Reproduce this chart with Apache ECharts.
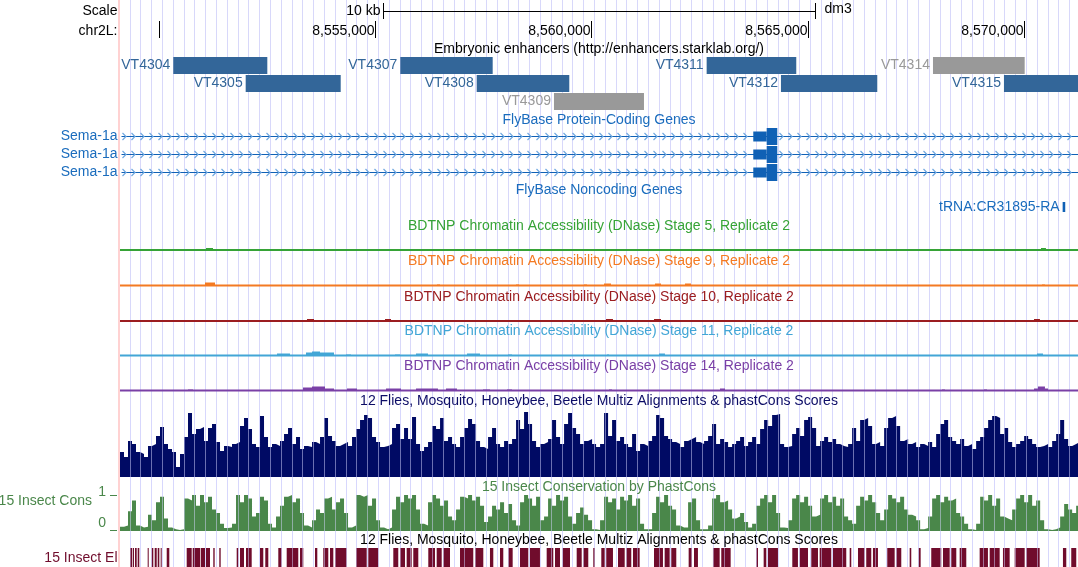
<!DOCTYPE html>
<html>
<head>
<meta charset="utf-8">
<script src="https://cdn.jsdelivr.net/npm/echarts@6/dist/echarts.min.js"></script>
<style>
  html, body { margin: 0; padding: 0; background: #fff; }
  #chart { width: 1078px; height: 567px; }
</style>
</head>
<body>
<div id="chart"></div>
<script>
// window shown: chr2L:8,549,100-8,571,250 (dm3)
const chromStart = 8549100;
const chromEnd = 8571250;
const rulerTicks = [8550000, 8555000, 8560000, 8565000, 8570000];
const rulerLabels = ['', '8,555,000', '8,560,000', '8,565,000', '8,570,000'];
const scaleBar = [8555170, 8565170];

// Embryonic enhancers (Stark lab)
const enhancerNames = ['VT4304', 'VT4305', 'VT4307', 'VT4308', 'VT4309', 'VT4311', 'VT4312', 'VT4314', 'VT4315'];
const enhancerStarts = [8550332, 8552006, 8555581, 8557347, 8559134, 8562664, 8564382, 8567897, 8569538];
const enhancerEnds = [8552506, 8554203, 8557717, 8559488, 8561215, 8564736, 8566609, 8570017, 8571900];
const enhancerRows = [0, 1, 0, 1, 2, 0, 1, 0, 1];
const enhancerActive = [1, 1, 1, 1, 0, 1, 1, 0, 1];

// FlyBase genes
const geneNames = ['Sema-1a', 'Sema-1a', 'Sema-1a'];
const geneSpan = [8400000, 8620000];
const utrExon = [8563742, 8564052];
const cdsExon = [8564052, 8564297];
const trnaName = 'tRNA:CR31895-RA';
const trnaSpan = [8570895, 8570955];

// BDTNP DNase signal: [start, end, height]
const dnaseStage5 = [[8551088, 8551250, 2], [8552822, 8552868, 1], [8560359, 8560406, 1], [8561515, 8561585, 1], [8569723, 8569769, 1], [8570394, 8570509, 2]];
const dnaseStage9 = [[8551065, 8551296, 3], [8556429, 8556499, 1], [8558256, 8558325, 1], [8559828, 8559897, 1], [8560290, 8560452, 2], [8561469, 8561608, 2], [8562163, 8562302, 2], [8570417, 8570486, 1]];
const dnaseStage10 = [[8552961, 8553030, 1], [8553423, 8553585, 2], [8554533, 8554626, 1], [8555227, 8555366, 2], [8555759, 8555828, 1], [8556845, 8556938, 1], [8557909, 8558002, 1], [8560336, 8560498, 2], [8561446, 8561608, 2], [8564290, 8564336, 1], [8568983, 8569076, 1], [8570232, 8570370, 2]];
const dnaseStage11 = [[8552730, 8553030, 2], [8553400, 8553539, 3], [8553539, 8553724, 4], [8553724, 8554048, 3], [8554325, 8554441, 1], [8555458, 8555574, 1], [8555944, 8556221, 2], [8557123, 8557423, 2], [8558071, 8558163, 1], [8560359, 8560406, 1], [8561562, 8561700, 2], [8570301, 8570440, 2]];
const dnaseStage14 = [[8550672, 8550788, 1], [8553331, 8553539, 3], [8553539, 8553840, 4], [8553840, 8554048, 2], [8554348, 8554579, 2], [8555250, 8555597, 2], [8555944, 8556452, 2], [8556637, 8556891, 2], [8557493, 8557654, 1], [8558048, 8558163, 1], [8560406, 8560475, 1], [8562972, 8563088, 2], [8568105, 8568174, 1], [8569076, 8569145, 1], [8570232, 8570324, 2], [8570324, 8570486, 4], [8570486, 8570556, 2]];

// Multiz / phastCons wiggles, fixed step from chromStart
const binSize = 92.5;
const multizScores = [
  25, 20, 36, 33, 25, 23, 20, 31, 33, 41,
  50, 33, 28, 25, 10, 23, 40, 64, 43, 48,
  50, 36, 49, 53, 35, 26, 31, 30, 33, 35,
  51, 59, 48, 33, 30, 61, 40, 30, 33, 31,
  36, 43, 49, 33, 40, 28, 31, 30, 35, 33,
  40, 59, 41, 36, 31, 33, 35, 31, 40, 48,
  57, 62, 59, 40, 35, 30, 31, 33, 49, 53,
  38, 49, 38, 60, 33, 26, 30, 35, 51, 48,
  59, 36, 40, 33, 30, 40, 49, 58, 53, 36,
  30, 28, 40, 49, 33, 30, 36, 33, 38, 57,
  48, 65, 53, 36, 30, 33, 35, 38, 57, 40,
  33, 53, 64, 49, 43, 33, 36, 38, 33, 30,
  33, 64, 41, 57, 36, 40, 33, 30, 43, 26,
  33, 31, 36, 41, 62, 59, 41, 38, 35, 33,
  30, 36, 38, 40, 35, 33, 36, 41, 53, 33,
  38, 35, 30, 33, 36, 40, 31, 35, 40, 33,
  48, 57, 51, 62, 63, 33, 30, 31, 43, 49,
  41, 57, 60, 49, 31, 36, 40, 35, 38, 33,
  31, 30, 33, 49, 36, 57, 59, 51, 33, 35,
  31, 49, 59, 61, 51, 36, 38, 33, 35, 30,
  33, 31, 35, 30, 43, 53, 57, 40, 36, 33,
  38, 31, 33, 28, 36, 40, 49, 57, 61, 59,
  43, 49, 35, 30, 33, 36, 41, 38, 33, 30,
  31, 33, 30, 36, 43, 57, 38, 31, 33, 35
];
const phastCons = [
  0.12, 0.15, 0.55, 0.85, 0.15, 0.1, 0.12, 0.45, 0.3, 0.8,
  0.95, 0.35, 0.1, 0.05, 0.03, 0.05, 0.9, 0.85, 1.0, 0.7,
  1.0, 0.8, 0.95, 0.6, 0.5, 0.2, 0.08, 0.1, 0.2, 1.0,
  0.8, 1.0, 0.9, 0.4, 0.5, 0.95, 0.85, 0.2, 0.1, 0.4,
  0.7, 0.95, 1.0, 0.8, 0.9, 0.5, 0.15, 0.1, 0.3, 0.6,
  0.5, 0.9, 0.95, 0.6, 0.8, 0.9, 0.5, 0.1, 0.15, 1.0,
  0.95, 1.0, 0.7, 0.9, 0.3, 0.1, 0.05, 0.1, 0.6, 0.95,
  0.8, 1.0, 0.9, 1.0, 0.6, 0.2, 0.15, 0.8, 1.0, 0.9,
  0.7, 0.85, 0.4, 0.3, 0.6, 0.95, 0.9, 1.0, 0.85, 0.95,
  0.7, 0.25, 0.4, 0.7, 0.6, 0.8, 0.5, 0.75, 0.3, 0.15,
  0.8, 1.0, 0.9, 0.7, 0.95, 0.3, 0.4, 0.9, 0.7, 1.0,
  0.85, 0.95, 0.4, 0.2, 0.5, 0.65, 0.45, 0.3, 0.05, 0.03,
  0.3, 0.95, 0.8, 0.9, 0.6, 0.95, 0.85, 1.0, 0.7, 0.9,
  0.2, 0.05, 0.05, 0.5, 0.95, 0.8, 1.0, 0.7, 0.6, 0.15,
  0.1, 0.1, 0.8, 0.9, 0.3, 0.05, 0.05, 0.15, 0.9, 1.0,
  0.8, 0.85, 0.6, 0.35, 0.4, 0.5, 0.25, 0.1, 0.2, 0.7,
  0.9, 1.0, 0.8, 1.0, 0.5, 0.1, 0.08, 0.3, 0.9, 1.0,
  0.8, 0.95, 0.7, 0.4, 0.45, 0.9, 1.0, 0.8, 0.95, 0.7,
  0.9, 0.4, 0.3, 0.2, 0.7, 0.95, 0.85, 1.0, 0.8, 0.5,
  0.3, 0.6, 1.0, 0.9, 0.8, 0.95, 0.6, 0.45, 0.4, 0.3,
  0.05, 0.08, 0.4, 0.9, 1.0, 0.8, 0.95, 0.85, 0.9, 0.5,
  0.4, 0.2, 0.05, 0.03, 0.2, 0.95, 0.85, 1.0, 0.7, 0.9,
  0.4, 0.35, 0.3, 0.6, 0.9, 1.0, 0.8, 1.0, 0.7, 0.85,
  0.3, 0.05, 0.03, 0.05, 0.1, 0.4, 0.75, 0.6, 0.5, 0.7
];
// 15 Insect conserved elements [start, end]
const consElements = [
  [8549331, 8549377], [8549394, 8549424], [8549447, 8549486], [8549509, 8549546],
  [8549740, 8549764], [8549833, 8549870], [8549902, 8549949], [8549972, 8550009], [8550041, 8550064],
  [8550180, 8550240], [8550642, 8550758], [8550781, 8550950], [8550966, 8551065], [8551088, 8551181],
  [8551257, 8551289], [8551396, 8551428], [8551798, 8551835], [8551874, 8551967], [8552013, 8552145],
  [8552337, 8552413], [8552459, 8552529], [8552760, 8552838], [8552954, 8553222], [8553262, 8553338],
  [8553608, 8553662], [8553800, 8553916], [8553955, 8554032], [8554071, 8554341],
  [8554556, 8554804], [8554841, 8555072], [8555419, 8555534], [8555574, 8555689], [8555728, 8555844], [8555881, 8555997],
  [8556228, 8556383], [8556422, 8556538], [8556575, 8556730], [8556961, 8557268], [8557308, 8557500],
  [8557654, 8557731], [8557886, 8557962], [8558078, 8558179], [8558348, 8558540], [8558579, 8558810],
  [8558965, 8559118], [8559157, 8559273], [8559335, 8559504], [8559659, 8559775], [8559811, 8559927], [8560043, 8560082],
  [8560228, 8560306], [8560343, 8560498], [8560614, 8560769], [8560806, 8560921], [8560961, 8561115],
  [8561446, 8561654], [8561693, 8561809], [8561846, 8561962], [8562248, 8562325], [8562371, 8562463],
  [8562810, 8562965], [8563002, 8563219], [8563811, 8563851], [8563982, 8564043], [8564082, 8564313],
  [8564644, 8564775], [8564815, 8565007], [8565083, 8565238], [8565277, 8565545], [8565585, 8565892],
  [8565971, 8566008], [8566163, 8566317], [8566354, 8566470], [8566509, 8566625],
  [8566840, 8567011], [8567048, 8567164], [8567358, 8567395], [8567565, 8567612],
  [8567857, 8568088], [8568128, 8568283], [8568320, 8568436], [8568514, 8568667],
  [8568976, 8569168], [8569208, 8569439], [8569515, 8569670], [8569786, 8570017], [8570054, 8570364],
  [8570902, 8570979], [8571094, 8571210]
];

const FONT = '14px "Liberation Sans", Arial, Helvetica, sans-serif';
const ENH_BLUE = '#336699';
const ENH_GREY = '#999999';
const GENE_BLUE = '#1061b5';
const GENE_TEXT = '#1a6cbd';
const CHEVRON = '#70a8e0';
const NAVY = '#000a64';
const CONS_GREEN = '#4a874a';
const EL_RED = '#700c2c';

const dnaseTracks = [
  {name: 'BDTNP Chromatin Accessibility (DNase) Stage 5, Replicate 2', color: '#36a336', base: 250, bumps: dnaseStage5},
  {name: 'BDTNP Chromatin Accessibility (DNase) Stage 9, Replicate 2', color: '#f47a22', base: 285.5, bumps: dnaseStage9},
  {name: 'BDTNP Chromatin Accessibility (DNase) Stage 10, Replicate 2', color: '#9b1d20', base: 321, bumps: dnaseStage10},
  {name: 'BDTNP Chromatin Accessibility (DNase) Stage 11, Replicate 2', color: '#42a6d6', base: 355.5, bumps: dnaseStage11},
  {name: 'BDTNP Chromatin Accessibility (DNase) Stage 14, Replicate 2', color: '#7a40a6', base: 390.5, bumps: dnaseStage14}
];

function textEl(text, x, y, color, align) {
  return {
    type: 'text', x: x, y: y, z: 100,
    style: {
      text: text, fill: color, font: FONT,
      align: align, textAlign: align,
      verticalAlign: 'middle', textVerticalAlign: 'middle'
    }
  };
}

const grids = [];
const xAxes = [];
const yAxes = [];
function addGrid(grid, xAxis, yAxis) {
  grids.push(grid);
  const idx = grids.length - 1;
  xAxes.push(Object.assign({gridIndex: idx}, xAxis));
  yAxes.push(Object.assign({gridIndex: idx}, yAxis));
  return idx;
}
const bpAxis = {type: 'value', min: chromStart, max: chromEnd, show: false};
const hiddenY = {type: 'value', show: false};
function guideAxis(color, z) {
  return {
    type: 'value', min: 0, max: 959, interval: 10.8, z: z,
    axisLine: {show: false}, axisTick: {show: false}, axisLabel: {show: false},
    splitLine: {show: true, showMinLine: false, showMaxLine: false, lineStyle: {color: color, width: 1}}
  };
}

// guide lines behind everything
addGrid({left: 119, right: 0, top: 0, bottom: 0}, guideAxis('#d8d8fa', 0), hiddenY);
// layout grid: x in bp, y in pixels
const layoutIdx = addGrid({left: 120, right: 0, top: 0, bottom: 0}, bpAxis,
  {type: 'value', min: 0, max: 567, inverse: true, show: false});
const dnaseIdx = dnaseTracks.map(t => addGrid({left: 120, right: 0, top: t.base - 20, height: 20}, bpAxis,
  {type: 'value', min: 0, max: 20, show: false}));
const multizIdx = addGrid({left: 120, right: 0, top: 410, height: 67}, bpAxis, {type: 'value', min: 0, max: 67, show: false});
const consIdx = addGrid({left: 120, right: 0, top: 495, height: 36}, bpAxis, {type: 'value', min: 0, max: 1, show: false});
const elIdx = addGrid({left: 120, right: 0, top: 548, height: 19}, bpAxis, {type: 'value', min: 0, max: 1, show: false});
// guide lines showing through the conservation tracks
addGrid({left: 119, right: 0, top: 408, bottom: 0}, guideAxis('rgba(214,214,255,0.5)', 5), hiddenY);

const series = [];

// ruler
series.push({
  type: 'custom', xAxisIndex: layoutIdx, yAxisIndex: layoutIdx, silent: true,
  data: rulerTicks.map((t, i) => [t, i]),
  renderItem: function (params, api) {
    const x = Math.round(api.coord([api.value(0), 0])[0]) + 0.5;
    const label = rulerLabels[api.value(1)];
    const children = [{type: 'line', shape: {x1: x, y1: 21, x2: x, y2: 38}, style: {stroke: '#000', lineWidth: 1}}];
    if (label) children.push(textEl(label, x - 1, 31, '#000', 'right'));
    return {type: 'group', children: children};
  }
});

// scale bar
series.push({
  type: 'custom', xAxisIndex: layoutIdx, yAxisIndex: layoutIdx, silent: true,
  data: [[scaleBar[0], scaleBar[1]]],
  renderItem: function (params, api) {
    const x0 = Math.round(api.coord([api.value(0), 0])[0]) + 0.5;
    const x1 = Math.round(api.coord([api.value(1), 0])[0]) + 0.5;
    const kb = Math.round((api.value(1) - api.value(0)) / 1000);
    return {type: 'group', children: [
      {type: 'line', shape: {x1: x0, y1: 11.5, x2: x1, y2: 11.5}, style: {stroke: '#000', lineWidth: 1}},
      {type: 'line', shape: {x1: x0, y1: 3, x2: x0, y2: 19}, style: {stroke: '#000', lineWidth: 1}},
      {type: 'line', shape: {x1: x1, y1: 3, x2: x1, y2: 19}, style: {stroke: '#000', lineWidth: 1}},
      textEl(kb + ' kb', x0 - 3, 11, '#000', 'right'),
      textEl('dm3', x1 + 9, 9, '#000', 'left')
    ]};
  }
});

// enhancers
series.push({
  type: 'custom', xAxisIndex: layoutIdx, yAxisIndex: layoutIdx, silent: true,
  data: enhancerNames.map((n, i) => [enhancerStarts[i], enhancerEnds[i], i]),
  renderItem: function (params, api) {
    const i = api.value(2);
    const cs = params.coordSys;
    const x0 = api.coord([api.value(0), 0])[0];
    const x1 = Math.min(api.coord([api.value(1), 0])[0], cs.x + cs.width);
    const top = 57 + enhancerRows[i] * 18;
    const color = enhancerActive[i] ? ENH_BLUE : ENH_GREY;
    return {type: 'group', children: [
      {type: 'rect', shape: {x: x0, y: top, width: x1 - x0, height: 17}, style: {fill: color}},
      textEl(enhancerNames[i], x0 - 3, top + 8.5, color, 'right')
    ]};
  }
});

// protein coding genes
series.push({
  type: 'custom', xAxisIndex: layoutIdx, yAxisIndex: layoutIdx, silent: true,
  data: geneNames.map((n, i) => [geneSpan[0], i]),
  renderItem: function (params, api) {
    const i = api.value(1);
    const y = 136.5 + i * 18;
    const cs = params.coordSys;
    const left = Math.max(api.coord([geneSpan[0], 0])[0], cs.x + 1.5);
    const right = Math.min(api.coord([geneSpan[1], 0])[0], cs.x + cs.width);
    const u0 = api.coord([utrExon[0], 0])[0];
    const u1 = api.coord([utrExon[1], 0])[0];
    const c1 = api.coord([cdsExon[1], 0])[0];
    const children = [{type: 'line', shape: {x1: left, y1: y, x2: right, y2: y}, style: {stroke: GENE_BLUE, lineWidth: 1.2}}];
    for (let x = left + 4; x < right; x += 9) {
      if (x > u0 - 4 && x < c1 + 5) continue;
      children.push({type: 'polyline', shape: {points: [[x - 3, y - 3.5], [x + 0.5, y], [x - 3, y + 3.5]]},
        style: {stroke: CHEVRON, lineWidth: 1.2, fill: null}});
    }
    children.push({type: 'rect', shape: {x: u0, y: y - 5, width: u1 - u0, height: 10}, style: {fill: GENE_BLUE}});
    children.push({type: 'rect', shape: {x: u1, y: y - 8.5, width: c1 - u1, height: 17}, style: {fill: GENE_BLUE}});
    children.push(textEl(geneNames[i], 117.5, y, GENE_TEXT, 'right'));
    return {type: 'group', children: children};
  }
});

// noncoding gene
series.push({
  type: 'custom', xAxisIndex: layoutIdx, yAxisIndex: layoutIdx, silent: true,
  data: [[trnaSpan[0], trnaSpan[1]]],
  renderItem: function (params, api) {
    const x0 = api.coord([api.value(0), 0])[0];
    const x1 = api.coord([api.value(1), 0])[0];
    return {type: 'group', children: [
      {type: 'rect', shape: {x: x0, y: 202, width: Math.max(2, x1 - x0), height: 10}, style: {fill: GENE_BLUE}},
      textEl(trnaName, x0 - 3, 207.5, GENE_TEXT, 'right')
    ]};
  }
});

// DNase tracks
dnaseTracks.forEach((t, k) => {
  series.push({
    type: 'line', xAxisIndex: dnaseIdx[k], yAxisIndex: dnaseIdx[k], silent: true, clip: false,
    symbol: 'none', data: [[chromStart, 0], [chromEnd, 0]],
    lineStyle: {color: t.color, width: 2}
  });
  series.push({
    type: 'custom', xAxisIndex: dnaseIdx[k], yAxisIndex: dnaseIdx[k], silent: true,
    data: t.bumps,
    renderItem: function (params, api) {
      const p0 = api.coord([api.value(0), api.value(2)]);
      const p1 = api.coord([api.value(1), 0]);
      return {type: 'rect', shape: {x: p0[0], y: p0[1], width: Math.max(1, p1[0] - p0[0]), height: p1[1] - p0[1]},
        style: {fill: t.color}};
    }
  });
});

// wiggles as stepped areas
function wiggleData(values) {
  const pts = values.map((v, i) => [chromStart + i * binSize, v]);
  pts.push([chromStart + values.length * binSize, values[values.length - 1]]);
  return pts;
}
series.push({
  type: 'line', xAxisIndex: multizIdx, yAxisIndex: multizIdx, silent: true, step: 'end',
  symbol: 'none', data: wiggleData(multizScores),
  lineStyle: {width: 0}, areaStyle: {color: NAVY, opacity: 1}
});
series.push({
  type: 'line', xAxisIndex: consIdx, yAxisIndex: consIdx, silent: true, step: 'end',
  symbol: 'none', data: wiggleData(phastCons),
  lineStyle: {width: 0}, areaStyle: {color: CONS_GREEN, opacity: 1}
});

// conserved elements
series.push({
  type: 'custom', xAxisIndex: elIdx, yAxisIndex: elIdx, silent: true,
  data: consElements,
  renderItem: function (params, api) {
    const p0 = api.coord([api.value(0), 1]);
    const p1 = api.coord([api.value(1), 0]);
    return {type: 'rect', shape: {x: p0[0], y: p0[1], width: Math.max(1, p1[0] - p0[0]), height: p1[1] - p0[1]},
      style: {fill: EL_RED}};
  }
});

const TITLE_X = 599;
const graphics = [
  {type: 'rect', shape: {x: 118, y: 0, width: 2, height: 567}, style: {fill: '#ffd2d2'}, z: 50},
  textEl('Scale', 117.5, 11, '#000', 'right'),
  textEl('chr2L:', 117.5, 31, '#000', 'right'),
  textEl('Embryonic enhancers (http://enhancers.starklab.org/)', TITLE_X, 49, '#000', 'center'),
  textEl('FlyBase Protein-Coding Genes', TITLE_X, 120, GENE_TEXT, 'center'),
  textEl('FlyBase Noncoding Genes', TITLE_X, 190, GENE_TEXT, 'center'),
  textEl('12 Flies, Mosquito, Honeybee, Beetle Multiz Alignments & phastCons Scores', TITLE_X, 401.5, '#0c0c66', 'center'),
  textEl('15 Insect Conservation by PhastCons', TITLE_X, 487, CONS_GREEN, 'center'),
  textEl('12 Flies, Mosquito, Honeybee, Beetle Multiz Alignments & phastCons Scores', TITLE_X, 540.5, '#000', 'center'),
  textEl('15 Insect Cons', 92, 501, CONS_GREEN, 'right'),
  textEl('1', 106, 492, CONS_GREEN, 'right'),
  textEl('0', 106, 523, CONS_GREEN, 'right'),
  {type: 'line', shape: {x1: 110, y1: 495.5, x2: 117, y2: 495.5}, style: {stroke: CONS_GREEN, lineWidth: 1}, z: 100},
  {type: 'line', shape: {x1: 110, y1: 530.5, x2: 117, y2: 530.5}, style: {stroke: CONS_GREEN, lineWidth: 1}, z: 100},
  textEl('15 Insect El', 117.5, 558, EL_RED, 'right')
];
dnaseTracks.forEach(t => graphics.push(textEl(t.name, TITLE_X, t.base - 24, t.color, 'center')));

const chart = echarts.init(document.getElementById('chart'));
chart.setOption({
  animation: false,
  backgroundColor: '#fff',
  grid: grids,
  xAxis: xAxes,
  yAxis: yAxes,
  series: series,
  graphic: graphics
});
</script>
</body>
</html>
